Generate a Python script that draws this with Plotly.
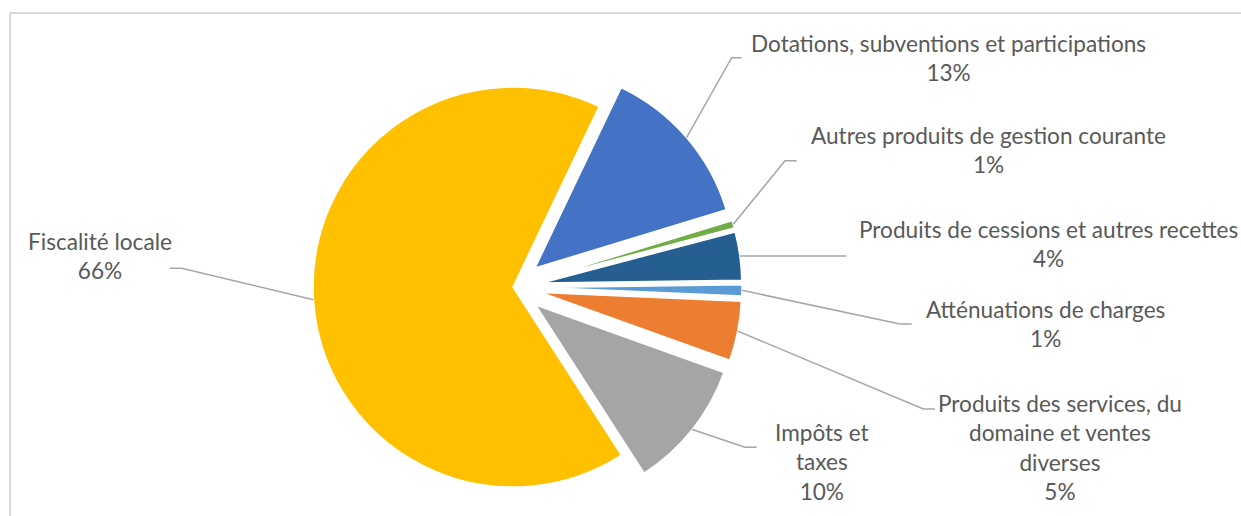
import math
import textwrap
import plotly.graph_objects as go

# ---------------- data ----------------
categories = [
    "Dotations, subventions et participations",
    "Autres produits de gestion courante",
    "Produits de cessions et autres recettes",
    "Atténuations de charges",
    "Produits des services, du domaine et ventes diverses",
    "Impôts et taxes",
    "Fiscalité locale",
]
shares = [13.2, 0.6, 3.9, 0.9, 4.8, 10.4, 66.2]

# ---------------- style / layout ----------------
colors = ["#4472C4", "#70AD47", "#255E91", "#5B9BD5", "#ED7D31", "#A5A5A5", "#FFC000"]
pulls = [0.145, 0.145, 0.145, 0.145, 0.145, 0.145, 0.0]
wrap_widths = [100, 100, 100, 100, 25, 10, 100]
W, H = 1241, 516
ROTATION = 25.5
DOM_X = [0.2134, 0.6134]
DOM_Y = [0.0, 0.8876]
FONT = "Lato"
FONT_SIZE = 22.6
TEXT_COLOR = "#595959"
LEADER_COLOR = "#A6A6A6"

# label block centres and leader elbows/ends, in pixels (x from left, y from top)
label_pos = [(949, 58), (988, 150), (1048, 244), (1045, 324), (1060, 447), (822, 462), (100, 256)]
leader_elbow = [(731.7, 57.7), (785, 160.7), (846, 256), (900, 324), (923.3, 409), (745, 447.3), (181.7, 268.3)]
leader_end = [(741.7, 57.7), (796.7, 160.7), (846, 256), (911.7, 324), (935, 409), (756.7, 447.3), (170, 268.3)]


def px(x, y):
    return x / W, 1 - y / H


fig = go.Figure(
    go.Pie(
        labels=categories,
        values=shares,
        sort=False,
        direction="clockwise",
        rotation=ROTATION,
        pull=pulls,
        marker=dict(colors=colors, line=dict(color="white", width=1.5)),
        textinfo="none",
        hoverinfo="label+percent",
        domain=dict(x=DOM_X, y=DOM_Y),
        showlegend=False,
    )
)

# pie geometry as plotly computes it
rx = W * (DOM_X[1] - DOM_X[0]) / 2
ry = H * (DOM_Y[1] - DOM_Y[0]) / 2
R = min(rx, ry) / (1 + max(pulls))
CX = W * (DOM_X[0] + DOM_X[1]) / 2
CY = H * (1 - DOM_Y[0]) - ry

total = sum(shares)
angle = math.radians(ROTATION)
annotations = []
shapes = []
for i, v in enumerate(shares):
    span = 2 * math.pi * v / total
    mid = angle + span / 2
    angle += span
    dist = R * (1 + pulls[i])
    ax, ay = CX + dist * math.sin(mid), CY - dist * math.cos(mid)
    (ex, ey), (fx, fy) = leader_elbow[i], leader_end[i]
    p0, p1, p2 = px(ax, ay), px(ex, ey), px(fx, fy)
    shapes.append(dict(
        type="path", xref="paper", yref="paper",
        path=f"M {p0[0]},{p0[1]} L {p1[0]},{p1[1]} L {p2[0]},{p2[1]}",
        line=dict(color=LEADER_COLOR, width=1.5),
    ))
    pct = round(v / total * 100)
    text = "<br>".join(textwrap.wrap(categories[i], wrap_widths[i])) + f"<br>{pct}%"
    lx, ly = px(*label_pos[i])
    annotations.append(dict(
        x=lx, y=ly, xref="paper", yref="paper", text=text, showarrow=False,
        xanchor="center", yanchor="middle", align="center",
        font=dict(family=FONT, size=FONT_SIZE, color=TEXT_COLOR),
    ))

# chart-area border (top and left edges visible)
b0 = px(10, 13)
shapes.append(dict(type="line", xref="paper", yref="paper", x0=b0[0], y0=b0[1], x1=1.0, y1=b0[1],
                   line=dict(color="#D9D9D9", width=2)))
shapes.append(dict(type="line", xref="paper", yref="paper", x0=b0[0], y0=b0[1], x1=b0[0], y1=0.0,
                   line=dict(color="#D9D9D9", width=2)))

fig.update_layout(
    width=W, height=H,
    margin=dict(l=0, r=0, t=0, b=0),
    paper_bgcolor="white", plot_bgcolor="white",
    annotations=annotations, shapes=shapes,
)

fig.write_html("out.html")
